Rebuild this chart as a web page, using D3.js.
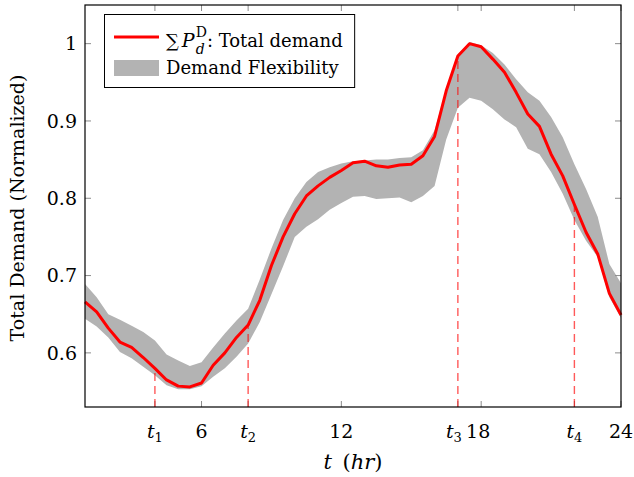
<!DOCTYPE html>
<html>
<head>
<meta charset="utf-8">
<script src="https://cdn.jsdelivr.net/npm/d3@7"></script>
<style>
  body { margin: 0; background: #fff; }
  text { font-family: "DejaVu Serif", serif; fill: #000; }
</style>
</head>
<body>
<svg id="chart" width="634" height="477"></svg>
<script>
// hours, sampled every half hour
const hours = d3.range(1, 24.01, 0.5);
const demand = [0.666, 0.653, 0.632, 0.614, 0.607, 0.594, 0.580, 0.565, 0.557, 0.556,
  0.561, 0.584, 0.600, 0.620, 0.636, 0.668, 0.713, 0.750, 0.780, 0.803,
  0.816, 0.827, 0.836, 0.846, 0.848, 0.842, 0.840, 0.843, 0.844, 0.855,
  0.880, 0.939, 0.984, 1.000, 0.996, 0.980, 0.963, 0.937, 0.909, 0.893,
  0.857, 0.829, 0.792, 0.756, 0.728, 0.677, 0.649];
const upper = [0.689, 0.672, 0.650, 0.643, 0.635, 0.627, 0.616, 0.598, 0.590, 0.583,
  0.588, 0.607, 0.625, 0.642, 0.657, 0.695, 0.735, 0.772, 0.800, 0.821,
  0.834, 0.840, 0.845, 0.848, 0.849, 0.850, 0.850, 0.852, 0.853, 0.862,
  0.888, 0.941, 0.986, 1.002, 0.998, 0.988, 0.973, 0.954, 0.937, 0.926,
  0.905, 0.879, 0.844, 0.812, 0.776, 0.715, 0.690];
const lower = [0.644, 0.634, 0.620, 0.601, 0.593, 0.582, 0.571, 0.558, 0.553, 0.553,
  0.557, 0.569, 0.580, 0.595, 0.612, 0.640, 0.676, 0.712, 0.750, 0.763,
  0.773, 0.785, 0.794, 0.802, 0.803, 0.799, 0.800, 0.801, 0.795, 0.803,
  0.816, 0.876, 0.917, 0.930, 0.926, 0.915, 0.902, 0.892, 0.864, 0.857,
  0.834, 0.806, 0.772, 0.745, 0.724, 0.672, 0.645];

// marked instants t1..t4 and axis ticks
const marks = [{ name: "t", sub: "1", h: 4 }, { name: "t", sub: "2", h: 8 },
  { name: "t", sub: "3", h: 17 }, { name: "t", sub: "4", h: 22 }];
const xTicks = [6, 12, 18, 24];
const yTicks = [0.6, 0.7, 0.8, 0.9, 1];

const svg = d3.select("#chart");
const pad = { top: 5, right: 13, bottom: 70, left: 85 };
const width = +svg.attr("width");
const height = +svg.attr("height");

const x = d3.scaleLinear().domain([1, 24]).range([pad.left, width - pad.right]);
const y = d3.scaleLinear().domain([0.53, 1.05]).range([height - pad.bottom, pad.top]);

const rows = hours.map((h, i) => ({ h, d: demand[i], lo: lower[i], hi: upper[i] }));

// band
svg.append("path")
  .datum(rows)
  .attr("fill", "#b3b3b3")
  .attr("d", d3.area().x(d => x(d.h)).y0(d => y(d.lo)).y1(d => y(d.hi)));

// tick marks (inside, all four sides)
const allX = marks.map(m => m.h).concat(xTicks);
const tickLen = 6;
const tickG = svg.append("g").attr("stroke", "#8c8c8c").attr("stroke-width", 1);
allX.forEach(h => {
  tickG.append("line").attr("x1", x(h)).attr("x2", x(h))
    .attr("y1", y.range()[0]).attr("y2", y.range()[0] - tickLen);
  tickG.append("line").attr("x1", x(h)).attr("x2", x(h))
    .attr("y1", y.range()[1]).attr("y2", y.range()[1] + tickLen);
});
yTicks.forEach(v => {
  tickG.append("line").attr("x1", x.range()[0]).attr("x2", x.range()[0] + tickLen)
    .attr("y1", y(v)).attr("y2", y(v));
  tickG.append("line").attr("x1", x.range()[1]).attr("x2", x.range()[1] - tickLen)
    .attr("y1", y(v)).attr("y2", y(v));
});

// dashed markers from bottom up to the demand curve
const demandAt = h => demand[hours.indexOf(h)];
svg.append("g").selectAll("line")
  .data(marks)
  .join("line")
  .attr("x1", d => x(d.h)).attr("x2", d => x(d.h))
  .attr("y1", y.range()[0]).attr("y2", d => y(demandAt(d.h)))
  .attr("stroke", "#ff0000")
  .attr("stroke-opacity", 0.65)
  .attr("stroke-width", 1.4)
  .attr("stroke-dasharray", "8,5");

// demand line
svg.append("path")
  .datum(rows)
  .attr("fill", "none")
  .attr("stroke", "#ff0000")
  .attr("stroke-width", 3)
  .attr("stroke-linejoin", "round")
  .attr("d", d3.line().x(d => x(d.h)).y(d => y(d.d)));

// frame
svg.append("rect")
  .attr("x", x.range()[0]).attr("y", y.range()[1])
  .attr("width", x.range()[1] - x.range()[0])
  .attr("height", y.range()[0] - y.range()[1])
  .attr("fill", "none").attr("stroke", "#000").attr("stroke-width", 1.2);

// y tick labels
svg.append("g").selectAll("text")
  .data(yTicks)
  .join("text")
  .attr("x", x.range()[0] - 8)
  .attr("y", d => y(d))
  .attr("dy", "0.35em")
  .attr("text-anchor", "end")
  .attr("font-size", 19)
  .text(d => d3.format("")(d));

// x tick labels
const labY = y.range()[0] + 31;
svg.append("g").selectAll("text")
  .data(xTicks)
  .join("text")
  .attr("x", d => x(d) - (d === 18 ? 3 : 0)).attr("y", labY)
  .attr("text-anchor", "middle")
  .attr("font-size", 19)
  .text(d => d);

const markLab = svg.append("g").selectAll("text")
  .data(marks)
  .join("text")
  .attr("x", d => x(d.h) - (d.h === 17 ? 4 : 0)).attr("y", labY)
  .attr("text-anchor", "middle")
  .attr("font-size", 19);
markLab.append("tspan").attr("font-style", "italic").text(d => d.name);
markLab.append("tspan").attr("font-size", 13).attr("dy", 4).text(d => d.sub);

// axis titles
const xt = svg.append("text")
  .attr("x", (x.range()[0] + x.range()[1]) / 2)
  .attr("y", height - 8)
  .attr("text-anchor", "middle")
  .attr("font-size", 21)
  .attr("font-style", "italic");
xt.append("tspan").text("t");
xt.append("tspan").attr("font-style", "normal").text("\u2002(");
xt.append("tspan").text("hr");
xt.append("tspan").attr("font-style", "normal").text(")");

svg.append("text")
  .attr("transform", `translate(24,${(y.range()[0] + y.range()[1]) / 2 + 2}) rotate(-90)`)
  .attr("text-anchor", "middle")
  .attr("font-size", 19)
  .text("Total Demand (Normalized)");

// legend
const lg = svg.append("g");
const lgBox = lg.append("rect")
  .attr("x", 104.5).attr("y", 14.5).attr("height", 73)
  .attr("fill", "#fff").attr("stroke", "#000").attr("stroke-width", 1);
lg.append("line")
  .attr("x1", 114).attr("x2", 159).attr("y1", 37).attr("y2", 37)
  .attr("stroke", "#ff0000").attr("stroke-width", 3);
lg.append("rect")
  .attr("x", 114).attr("y", 60).attr("width", 45).attr("height", 16)
  .attr("fill", "#b3b3b3");

let cx = 166;
function piece(txt, px, py, size, italic) {
  const t = lg.append("text").attr("x", px).attr("y", py)
    .attr("font-size", size).text(txt);
  if (italic) t.attr("font-style", "italic");
  return t.node().getComputedTextLength();
}
cx += piece("\u2211", cx, 47, 18, false) + 3;
cx += piece("P", cx, 47, 19, true) + 1;
const wD = piece("D", cx, 37, 14, false);
const wd = piece("d", cx, 54, 14, true);
cx += Math.max(wD, wd);
cx += piece(": Total demand", cx, 47, 18, false);
piece("Demand Flexibility", 166, 74, 18, false);
lgBox.attr("width", cx + 12 - 104.5);
</script>
</body>
</html>
